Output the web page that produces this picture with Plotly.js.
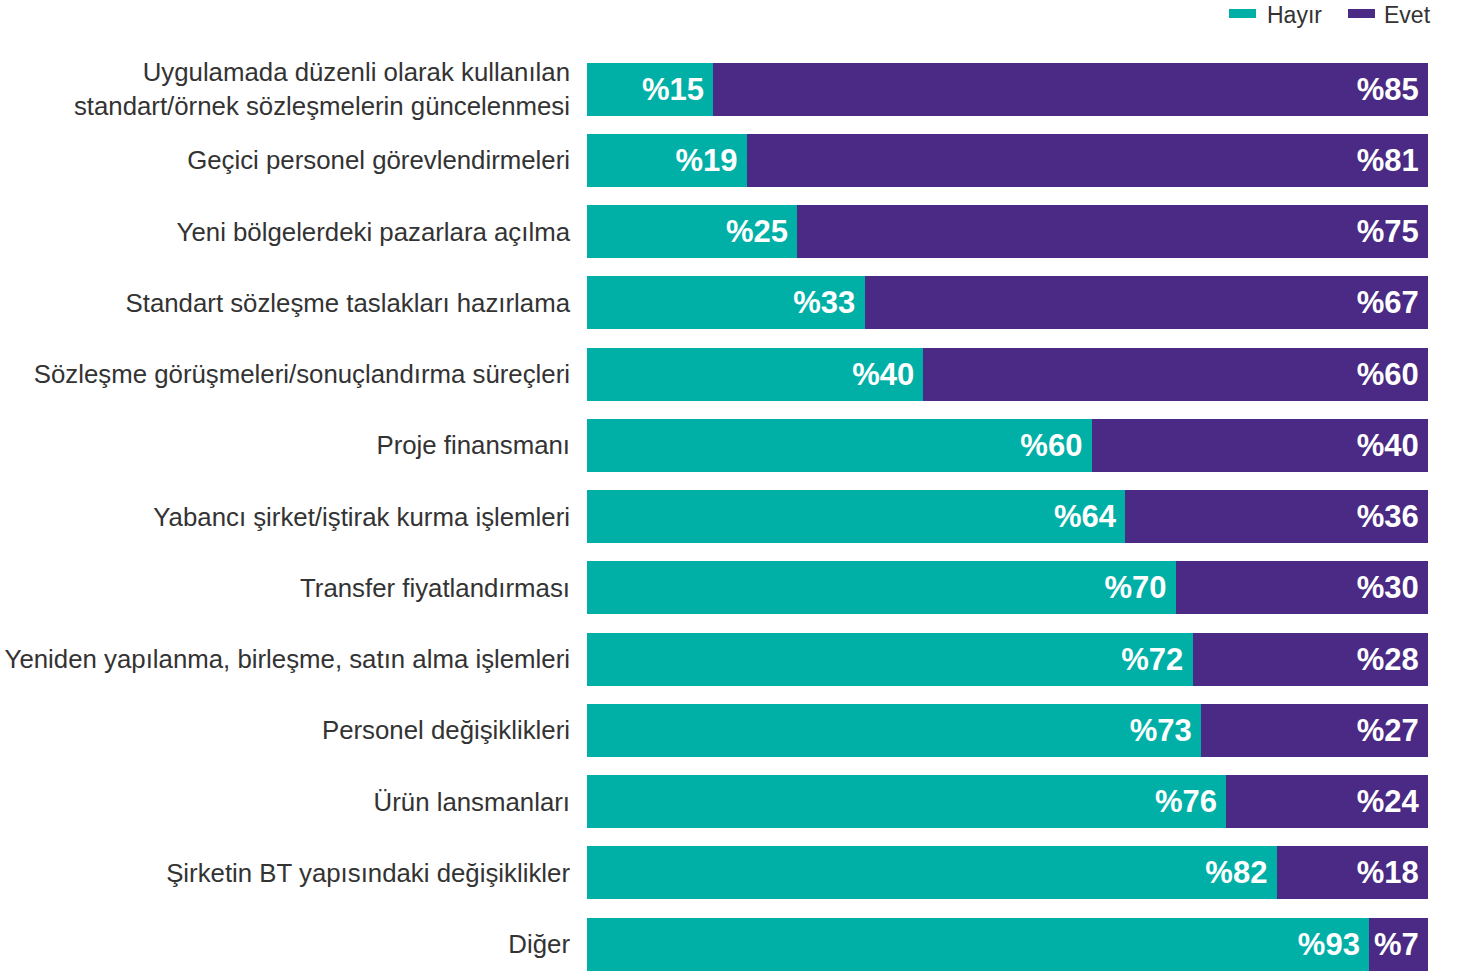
<!DOCTYPE html>
<html><head><meta charset="utf-8">
<script src="https://cdn.plot.ly/plotly-3.0.1.min.js"></script>
<style>html,body{margin:0;padding:0;background:#fff}#chart{width:1462px;height:974px}</style>
</head><body><div id="chart"></div>
<script>
const categories = [
  "Uygulamada düzenli olarak kullanılan<br>standart/örnek sözleşmelerin güncelenmesi",
  "Geçici personel görevlendirmeleri",
  "Yeni bölgelerdeki pazarlara açılma",
  "Standart sözleşme taslakları hazırlama",
  "Sözleşme görüşmeleri/sonuçlandırma süreçleri",
  "Proje finansmanı",
  "Yabancı şirket/iştirak kurma işlemleri",
  "Transfer fiyatlandırması",
  "Yeniden yapılanma, birleşme, satın alma işlemleri",
  "Personel değişiklikleri",
  "Ürün lansmanları",
  "Şirketin BT yapısındaki değişiklikler",
  "Diğer"
];
const hayir = [15,19,25,33,40,60,64,70,72,73,76,82,93];
const evet  = [85,81,75,67,60,40,36,30,28,27,24,18,7];
const seriesNames = ["Hayır","Evet"];

const TEAL = "#00B0A7", PURPLE = "#4A2A84";
const W = 1462, H = 974, ML = 587, MR = 34, MT = 40, MB = 0;
const PW = W - ML - MR, PH = H - MT - MB;
const px = x => (x - ML) / PW;          // pixel -> paper x
const py = y => (H - MB - y) / PH;      // pixel -> paper y

const labelFont = {family:"Liberation Sans, Arial, sans-serif", size:31, color:"#ffffff", weight:700};

const traces = [
  {type:"bar", orientation:"h", y:categories, x:hayir, name:seriesNames[0],
   marker:{color:TEAL}, text:hayir.map(v=>"%"+v+"\u2009"), textposition:"inside", insidetextanchor:"end",
   textfont:labelFont, hoverinfo:"none"},
  {type:"bar", orientation:"h", y:categories, x:evet, name:seriesNames[1],
   marker:{color:PURPLE}, text:evet.map(v=>"%"+v+"\u2009"), textposition:"inside", insidetextanchor:"end",
   textfont:labelFont, hoverinfo:"none"}
];

const legFont = {family:"Liberation Sans, Arial, sans-serif", size:23, color:"#333333"};
const shapes = [
  {type:"rect", xref:"paper", yref:"paper", x0:px(1229), x1:px(1256), y0:py(18), y1:py(9), fillcolor:TEAL, line:{width:0}},
  {type:"rect", xref:"paper", yref:"paper", x0:px(1348), x1:px(1375), y0:py(18), y1:py(9), fillcolor:PURPLE, line:{width:0}}
];
const annotations = [
  {xref:"paper", yref:"paper", x:px(1265), y:py(15), xanchor:"left", yanchor:"middle", text:seriesNames[0], showarrow:false, font:legFont},
  {xref:"paper", yref:"paper", x:px(1382), y:py(15), xanchor:"left", yanchor:"middle", text:seriesNames[1], showarrow:false, font:legFont}
];

const layout = {
  width:W, height:H,
  margin:{l:ML, r:MR, t:MT, b:MB, pad:0, autoexpand:false},
  paper_bgcolor:"#fff", plot_bgcolor:"#fff",
  barmode:"stack", bargap:0.256, showlegend:false,
  xaxis:{range:[0,100], visible:false, fixedrange:true},
  yaxis:{type:"category", categoryorder:"array", categoryarray:categories,
         range:[12.421,-0.688], autorange:false, showgrid:false, zeroline:false, showline:false,
         ticks:"", ticklabelstandoff:16, automargin:false,
         tickfont:{family:"Liberation Sans, Arial, sans-serif", size:25.8, color:"#333333"}},
  shapes:shapes, annotations:annotations,
  font:{family:"Liberation Sans, Arial, sans-serif"}
};

Plotly.newPlot("chart", traces, layout, {displayModeBar:false, staticPlot:true});
</script></body></html>
